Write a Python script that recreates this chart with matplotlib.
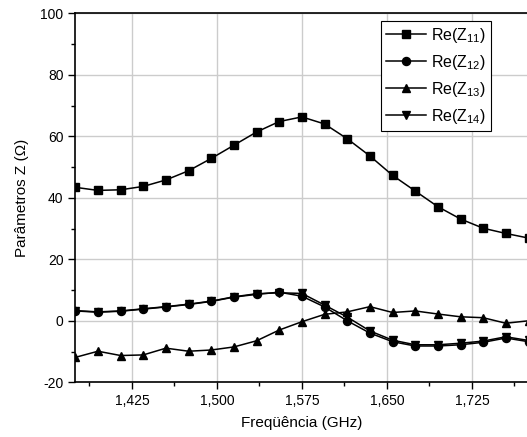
import matplotlib
matplotlib.use("Agg")
import matplotlib.pyplot as plt
from matplotlib.ticker import MultipleLocator, FuncFormatter

plt.rcParams["font.family"] = ["Liberation Sans", "DejaVu Sans"]
plt.rcParams["axes.unicode_minus"] = False
plt.rcParams["mathtext.fontset"] = "custom"
plt.rcParams["mathtext.rm"] = "Liberation Sans"

freq = [1.375, 1.395, 1.415, 1.435, 1.455, 1.475, 1.495, 1.515, 1.535, 1.555, 1.575,
        1.595, 1.615, 1.635, 1.655, 1.675, 1.695, 1.715, 1.735, 1.755, 1.775]

re_z11 = [43.4, 42.4, 42.6, 43.7, 45.8, 48.8, 52.8, 57.1, 61.4, 64.8, 66.3,
          64.0, 59.2, 53.6, 47.3, 42.2, 37.1, 33.1, 30.1, 28.4, 26.9]
re_z12 = [3.2, 2.8, 3.1, 3.8, 4.5, 5.3, 6.3, 7.7, 8.6, 9.3, 8.0,
          4.5, 0.0, -4.0, -6.8, -8.2, -8.2, -7.8, -7.0, -5.6, -6.8]
re_z13 = [-11.9, -9.9, -11.3, -11.1, -8.9, -9.9, -9.5, -8.5, -6.5, -3.0, -0.3,
          2.1, 2.9, 4.6, 2.7, 3.2, 2.2, 1.3, 1.0, -0.8, 0.0]
re_z14 = [3.3, 2.9, 3.2, 3.9, 4.6, 5.4, 6.4, 7.8, 8.8, 9.1, 8.9,
          5.1, 1.2, -3.3, -6.3, -7.8, -7.8, -7.3, -6.6, -5.2, -6.4]

series = [
    (re_z11, "s", r"Re(Z$_{\mathrm{11}}$)"),
    (re_z12, "o", r"Re(Z$_{\mathrm{12}}$)"),
    (re_z13, "^", r"Re(Z$_{\mathrm{13}}$)"),
    (re_z14, "v", r"Re(Z$_{\mathrm{14}}$)"),
]

fig = plt.figure(figsize=(5.27, 4.37), dpi=100)
ax = fig.add_axes([0.1429, 0.1252, 0.8600, 0.8444])

for values, marker, label in series:
    ax.plot(freq, values, color="black", lw=1.1, marker=marker, ms=5.8,
            label=label, clip_on=True)

ax.set_xlim(1.375, 1.775)
ax.set_ylim(-20, 100)
ax.xaxis.set_major_locator(MultipleLocator(0.075))
ax.xaxis.set_minor_locator(MultipleLocator(0.0375))
ax.yaxis.set_major_locator(MultipleLocator(20))
ax.yaxis.set_minor_locator(MultipleLocator(10))
ax.xaxis.set_major_formatter(FuncFormatter(lambda v, p: f"{v:.3f}".replace(".", ",")))

ax.grid(True, which="major", color="#cccccc", lw=1.0)
ax.set_axisbelow(True)
ax.tick_params(axis="both", which="major", direction="out", length=5, width=1, labelsize=10)
ax.tick_params(axis="both", which="minor", direction="out", length=3, width=1)
ax.tick_params(top=False, right=False)
for s in ax.spines.values():
    s.set_linewidth(1.2)
ax.spines["right"].set_visible(False)

ax.set_xlabel("Freqüência (GHz)", fontsize=11, labelpad=6)
ax.set_ylabel("Parâmetros Z (Ω)", fontsize=11, labelpad=8)

leg = ax.legend(loc="upper right", bbox_to_anchor=(0.9175, 0.979), fontsize=11.5,
                frameon=True, fancybox=False, edgecolor="black", framealpha=1,
                handlelength=2.5, borderpad=0.3, labelspacing=0.5, handletextpad=0.35,
                borderaxespad=0)
leg.get_frame().set_linewidth(0.8)

fig.savefig("out.png", dpi=100)
